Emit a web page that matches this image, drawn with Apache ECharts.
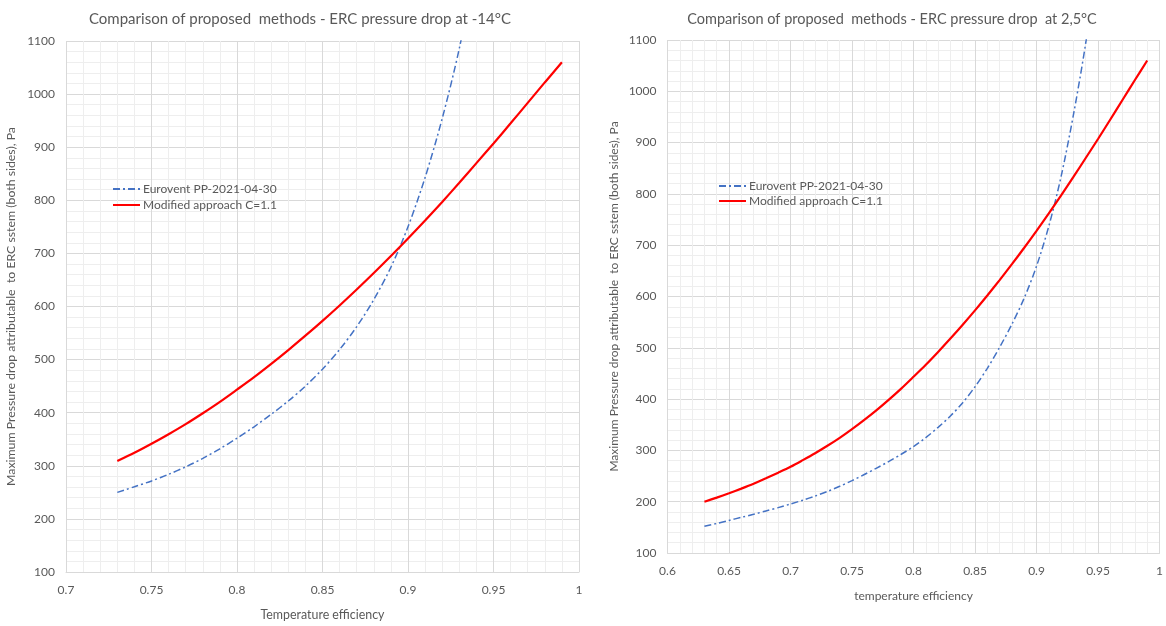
<!DOCTYPE html>
<html>
<head>
<meta charset="utf-8">
<script src="https://cdn.jsdelivr.net/npm/echarts@6/dist/echarts.min.js"></script>
<style>html,body{margin:0;padding:0;background:#fff}#c{width:1166px;height:626px}</style>
</head>
<body>
<div id="c"></div>
<script>
// ---- Data ----
var seriesNames = ['Eurovent PP-2021-04-30', 'Modified approach C=1.1'];
var titles = ['Comparison of proposed  methods - ERC pressure drop at -14°C',
              'Comparison of proposed  methods - ERC pressure drop  at 2,5°C'];
var xNames = ['Temperature efficiency', 'temperature efficiency'];
var yName = 'Maximum Pressure drop attributable  to ERC sstem (both sides), Pa';

// Left chart (-14°C)
var leftRedX = [0.73,0.74,0.75,0.76,0.77,0.78,0.79,0.80,0.81,0.82,0.83,0.84,0.85,0.86,0.87,0.88,0.89,0.90,0.91,0.92,0.93,0.94,0.95,0.96,0.97,0.98,0.99];
var leftRed  = [309,324.5,341.5,359.5,378.5,399,420.5,443.5,467,492,518,545,573,602,632,663,695,728,762,797,833,870,907,945,983.5,1022,1060];
var leftBlueX = [0.73,0.74,0.75,0.76,0.77,0.78,0.79,0.80,0.81,0.82,0.83,0.84,0.85,0.86,0.87,0.88,0.89,0.90,0.91,0.92,0.93,0.94];
var leftBlue  = [250,260.5,271.5,284,298,314,332,352,373.5,397,422,450,482,519,562,613,674,750,843,954,1086,1251];

// Right chart (2,5°C)
var rightRedX = [0.63,0.64,0.65,0.66,0.67,0.68,0.69,0.70,0.71,0.72,0.73,0.74,0.75,0.76,0.77,0.78,0.79,0.80,0.81,0.82,0.83,0.84,0.85,0.86,0.87,0.88,0.89,0.90,0.91,0.92,0.93,0.94,0.95,0.96,0.97,0.98,0.99];
var rightRed  = [200,208,216.5,225.5,235,245.5,256.5,268,281,294.5,309,324.5,341.5,359.5,378.5,399,420.5,443.5,467,492,518,545,573,602,632,663,695,728,762,797,833,870,907,945,983.5,1022,1060];
var rightBlueX = [0.63,0.64,0.65,0.66,0.67,0.68,0.69,0.70,0.71,0.72,0.73,0.74,0.75,0.76,0.77,0.78,0.79,0.80,0.81,0.82,0.83,0.84,0.85,0.86,0.87,0.88,0.89,0.90,0.91,0.92,0.93,0.94,0.95];
var rightBlue  = [152,157.5,163.5,169.5,175.5,182,188.5,195.5,203,211,220,230,241,253,265.5,278.5,292.5,307.5,325,345,367,393,424,460,501,546,597,659,737,834,954,1094,1264];

var xMins = [0.7, 0.6];
var xMax = 1, xStep = 0.05;
var yMin = 100, yMax = 1100, yStep = 100;

// ---- Build option ----
function pairs(xs, ys) { return xs.map(function (x, i) { return [x, ys[i]]; }); }
var txt = '#595959';
var font = 'Lato, "Open Sans", sans-serif';
var grids = [
  { left: 66, top: 41, width: 513, height: 539 },
  { left: 667.5, top: 40, width: 493.5, height: 513 }
];
var xNameSize = [12.4, 12];
var yNameSize = [12.3, 12];
function xAxis(i) {
  return {
    type: 'value', gridIndex: i, min: xMins[i], max: xMax, interval: xStep,
    name: xNames[i], nameLocation: 'middle', nameGap: 37,
    nameTextStyle: { color: txt, fontSize: xNameSize[i], fontFamily: font },
    axisLine: { show: true, lineStyle: { color: '#d9d9d9', width: 1 } },
    axisTick: { show: false },
    axisLabel: { color: txt, fontSize: 12, fontFamily: font, margin: 12,
      formatter: function (v) { return String(Math.round(v * 100) / 100); } },
    splitLine: { show: true, lineStyle: { color: '#d9d9d9', width: 1 } },
    minorTick: { show: false, splitNumber: 5 },
    minorSplitLine: { show: true, lineStyle: { color: '#eeeeee', width: 1 } }
  };
}
function yAxis(i) {
  return {
    type: 'value', gridIndex: i, min: yMin, max: yMax, interval: yStep,
    name: yName, nameLocation: 'middle', nameGap: i === 0 ? 49 : 47,
    nameTextStyle: { color: txt, fontSize: yNameSize[i], fontFamily: font },
    axisLine: { show: false }, axisTick: { show: false },
    axisLabel: { color: txt, fontSize: 12, fontFamily: font, margin: 11,
      formatter: function (v) { return String(v); } },
    splitLine: { show: true, lineStyle: { color: '#d9d9d9', width: 1 } },
    minorTick: { show: false, splitNumber: 5 },
    minorSplitLine: { show: true, lineStyle: { color: '#eeeeee', width: 1 } }
  };
}
var blueStyle = { color: '#4472C4', width: 1.5, type: [7, 3, 2, 3] };
var redStyle = { color: '#FF0000', width: 2.2, type: 'solid' };
function legend(left, top, gap) {
  return {
    left: left, top: top, orient: 'vertical', itemWidth: 27, itemHeight: 14, itemGap: gap,
    data: seriesNames, textStyle: { color: txt, fontSize: 12, fontFamily: font, padding: [0, 0, 0, -2] },
    itemStyle: { opacity: 0 },
    selectedMode: false
  };
}
var option = {
  animation: false,
  backgroundColor: '#fff',
  title: [
    { text: titles[0], left: 295, top: 7, textAlign: 'center', textStyle: { color: txt, fontSize: 15, fontWeight: 'normal', fontFamily: font } },
    { text: titles[1], left: 887, top: 7, textAlign: 'center', textStyle: { color: txt, fontSize: 14.5, fontWeight: 'normal', fontFamily: font } }
  ],
  legend: [legend(107, 178, 4), legend(713, 175, 3)],
  grid: grids,
  xAxis: [xAxis(0), xAxis(1)],
  yAxis: [yAxis(0), yAxis(1)],
  series: [
    { name: seriesNames[0], type: 'line', xAxisIndex: 0, yAxisIndex: 0, data: pairs(leftBlueX, leftBlue), smooth: 0.3, symbol: 'none', lineStyle: blueStyle, itemStyle: { color: '#4472C4' }, clip: true },
    { name: seriesNames[1], type: 'line', xAxisIndex: 0, yAxisIndex: 0, data: pairs(leftRedX, leftRed), smooth: 0.3, symbol: 'none', lineStyle: redStyle, itemStyle: { color: '#FF0000' }, clip: true },
    { name: seriesNames[0], type: 'line', xAxisIndex: 1, yAxisIndex: 1, data: pairs(rightBlueX, rightBlue), smooth: 0.3, symbol: 'none', lineStyle: blueStyle, itemStyle: { color: '#4472C4' }, clip: true },
    { name: seriesNames[1], type: 'line', xAxisIndex: 1, yAxisIndex: 1, data: pairs(rightRedX, rightRed), smooth: 0.3, symbol: 'none', lineStyle: redStyle, itemStyle: { color: '#FF0000' }, clip: true }
  ]
};
var chart = echarts.init(document.getElementById('c'), null, { renderer: 'canvas' });
chart.setOption(option);
</script>
</body>
</html>
